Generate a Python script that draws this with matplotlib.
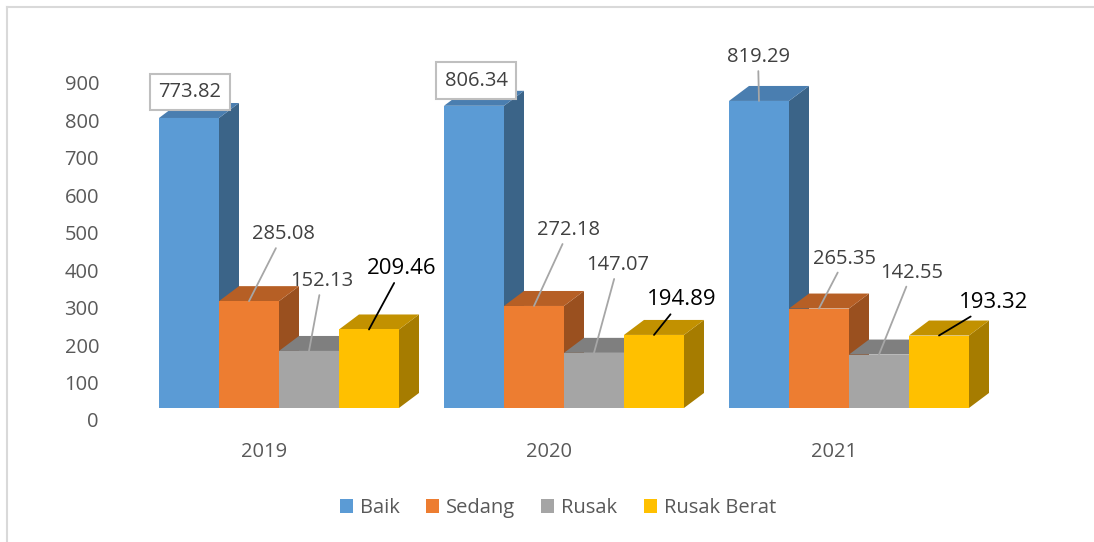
"""Kondisi jalan 2019-2021 (grafik kolom 3D ala Excel)."""

import numpy as np
import matplotlib
matplotlib.use("Agg")
import matplotlib.pyplot as plt
from matplotlib.patches import Polygon, Patch

plt.rcParams["font.family"] = ["Open Sans", "DejaVu Sans"]

# data
years = ["2019", "2020", "2021"]
series = ["Baik", "Sedang", "Rusak", "Rusak Berat"]
baik = [773.82, 806.34, 819.29]
sedang = [285.08, 272.18, 265.35]
rusak = [152.13, 147.07, 142.55]
rusak_berat = [209.46, 194.89, 193.32]
y_ticks = [0, 100, 200, 300, 400, 500, 600, 700, 800, 900]

values = [baik, sedang, rusak, rusak_berat]

# warna: depan, atas, samping
front = ["#5B9BD5", "#ED7D31", "#A5A5A5", "#FFC000"]
top = ["#4A7EB0", "#B65F25", "#7F7F7F", "#C29100"]
side = ["#3B6488", "#9A501F", "#6E6E6E", "#A67C00"]

# posisi label data (offset piksel dari puncak batang: dx kanan, dy atas)
label_off = [
    [(1, 26), (2, 25), (-1, 44)],
    [(34, 67), (35, 76), (26, 50)],
    [(13, 70), (24, 88), (33, 82)],
    [(33, 61), (28, 35), (55, 33)],
]
boxed = [(0, 0), (0, 1)]

W = 60 / 285      # lebar batang (unit kategori)
DX = 20 / 285     # kedalaman 3D arah x
DY = 40           # kedalaman 3D arah y (unit data)
Y_SHIFT = 32      # label sumbu y ada di dinding belakang

fig = plt.figure(figsize=(10.94, 5.42), dpi=100)
ax = fig.add_axes([136.5 / 1094, 115.3 / 542, 855 / 1094, 356 / 542])
ax.set_xlim(-0.5, 2.5)
ax.set_ylim(-50, 900)

x = np.arange(len(years))
offsets = (np.arange(len(series)) - 1.5) * W

for j in range(len(years)):
    for i in range(len(series)):
        xc = x[j] + offsets[i]
        v = values[i][j]
        x0, x1 = xc - W / 2, xc + W / 2
        z = 2 + j * 10 + i * 2
        ax.bar(xc, v, width=W, color=front[i], linewidth=0, zorder=z + 1)
        ax.add_patch(Polygon([(x1, 0), (x1 + DX, DY), (x1 + DX, v + DY), (x1, v)],
                             closed=True, facecolor=side[i], lw=0, zorder=z))
        ax.add_patch(Polygon([(x0, v), (x0 + DX, v + DY), (x1 + DX, v + DY), (x1, v)],
                             closed=True, facecolor=top[i], lw=0, zorder=z))

# label data
for i in range(len(series)):
    for j in range(len(years)):
        xc = x[j] + offsets[i]
        v = values[i][j]
        dx, dy = label_off[i][j]
        big = i == 3
        kw = dict(
            xy=(xc, v), xytext=(dx * 0.72, dy * 0.72), textcoords="offset points",
            ha="center", va="center", zorder=100,
            fontsize=16 if big else 14.5,
            color="black" if big else "#404040",
        )
        if (i, j) in boxed:
            kw["bbox"] = dict(boxstyle="square,pad=0.42", fc="white", ec="#BFBFBF", lw=1.5)
        else:
            kw["arrowprops"] = dict(arrowstyle="-", color="black" if big else "#A6A6A6",
                                    lw=1.3, shrinkA=1, shrinkB=0)
        ax.annotate(f"{v:.2f}", **kw)

ax.set_yticks(np.array(y_ticks) - Y_SHIFT)
ax.set_yticklabels([str(t) for t in y_ticks])
ax.set_xticks(x - 0.053)
ax.set_xticklabels(years)
ax.tick_params(axis="y", length=0, pad=27, labelsize=14.5, labelcolor="#595959")
ax.tick_params(axis="x", length=0, pad=11, labelsize=14.5, labelcolor="#595959")
for s in ax.spines.values():
    s.set_visible(False)

handles = [Patch(facecolor=c, edgecolor="none") for c in front]
fig.legend(handles, series, loc="center", bbox_to_anchor=(0.51, 0.063), ncol=4,
           frameon=False, fontsize=14.5, labelcolor="#595959",
           handlelength=0.65, handleheight=0.65, handletextpad=0.35, columnspacing=1.3)

# bingkai chart (hanya atas dan kiri yang terlihat)
fig.add_artist(plt.Line2D([7 / 1094, 1], [1 - 7 / 542, 1 - 7 / 542],
                          transform=fig.transFigure, color="#D9D9D9", lw=1.5))
fig.add_artist(plt.Line2D([7 / 1094, 7 / 1094], [0, 1 - 7 / 542],
                          transform=fig.transFigure, color="#D9D9D9", lw=1.5))

fig.savefig("out.png", dpi=100, facecolor="white")
plt.close(fig)
